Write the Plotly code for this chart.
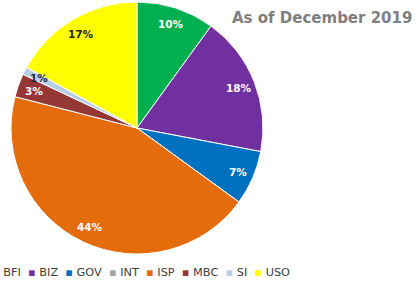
import math
import plotly.graph_objects as go

categories = ["BFI", "BIZ", "GOV", "INT", "ISP", "MBC", "SI", "USO"]
values = [10, 18, 7, 0, 44, 3, 1, 17]
colors = ["#00B050", "#7030A0", "#0070C0", "#A5A5A5", "#E46C0A", "#953735", "#B9CDE5", "#FFFF00"]
label_colors = ["white", "white", "white", "white", "white", "white", "#1F2A44", "#262626"]
title_text = "As of December 2019"

W, H = 418, 284
cx, cy, R = 137, 128, 126  # pie centre and radius in pixels

fig = go.Figure()
fig.add_trace(go.Pie(
    labels=categories,
    values=values,
    marker=dict(colors=colors, line=dict(color="white", width=1)),
    sort=False,
    direction="clockwise",
    rotation=0,
    textinfo="none",
    hoverinfo="label+percent",
    showlegend=False,
    domain=dict(x=[(cx - R) / W, (cx + R) / W], y=[1 - (cy + R) / H, 1 - (cy - R) / H]),
))

annotations = []
total = sum(values)
cum = 0
for cat, v, lc in zip(categories, values, label_colors):
    if v > 0:
        mid = (cum + v / 2) / total * 2 * math.pi
        rr = R * 0.87
        px = cx + rr * math.sin(mid)
        py = cy - rr * math.cos(mid)
        annotations.append(dict(
            x=px / W, y=1 - py / H, xref="paper", yref="paper",
            text="<b>%d%%</b>" % round(v / total * 100), showarrow=False,
            font=dict(family="DejaVu Sans", size=10.5, color=lc),
            xanchor="center", yanchor="middle",
        ))
    cum += v

# legend row
parts = []
for cat, c in zip(categories, colors):
    parts.append('<span style="color:%s">▪</span>\u00a0%s' % (c, cat))
legend_text = "\u00a0\u00a0".join(parts)
annotations.append(dict(
    x=-10 / W, y=1 - 272 / H, xref="paper", yref="paper",
    text=legend_text, showarrow=False, xanchor="left", yanchor="middle",
    font=dict(family="DejaVu Sans", size=11.3, color="#404040"),
))

annotations.append(dict(
    x=414 / W, y=1 - 18 / H, xref="paper", yref="paper",
    text="<b>%s</b>" % title_text, showarrow=False, xanchor="right", yanchor="middle",
    font=dict(family="DejaVu Sans", size=15, color="#7F7F7F"),
))

fig.update_layout(
    width=W, height=H,
    margin=dict(l=0, r=0, t=0, b=0),
    paper_bgcolor="white", plot_bgcolor="white",
    annotations=annotations,
)

fig.write_html("out.html", config={"displayModeBar": False},
               post_script="document.body.style.margin='0';")
